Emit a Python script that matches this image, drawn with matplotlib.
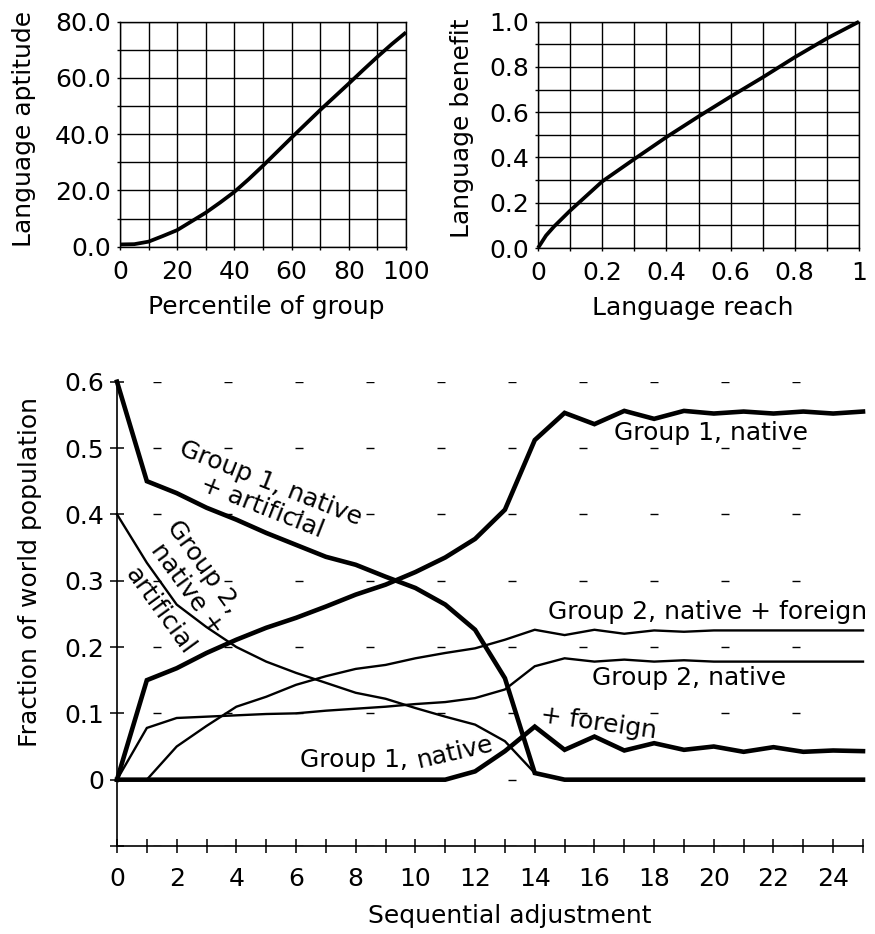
import matplotlib
matplotlib.use("Agg")
import matplotlib.pyplot as plt
from matplotlib.ticker import MultipleLocator, FixedLocator, FixedFormatter

plt.rcParams['font.family'] = ['DejaVu Sans']
FS = 18

# ---------------- data ----------------
percentile = [0, 5, 10, 15, 20, 25, 30, 35, 40, 45, 50, 55, 60, 65, 70, 75, 80, 85, 90, 95, 100]
aptitude = [0.8, 0.9, 1.8, 3.8, 5.9, 9.0, 12.1, 15.7, 19.5, 24.0, 28.8, 33.8, 38.8, 43.7, 48.6, 53.3, 58.0, 62.8, 67.5, 72.0, 76.2]
apt_xticks = [0, 20, 40, 60, 80, 100]
apt_xlabels = ['0', '20', '40', '60', '80', '100']
apt_yticks = [0, 20, 40, 60, 80]
apt_ylabels = ['0.0', '20.0', '40.0', '60.0', '80.0']

reach = [0, 0.025, 0.05, 0.1, 0.2, 0.3, 0.4, 0.5, 0.6, 0.7, 0.8, 0.9, 1.0]
benefit = [0, 0.055, 0.095, 0.165, 0.294, 0.393, 0.49, 0.581, 0.669, 0.754, 0.843, 0.926, 1.0]
ben_xticks = [0, 0.2, 0.4, 0.6, 0.8, 1.0]
ben_xlabels = ['0', '0.2', '0.4', '0.6', '0.8', '1']
ben_yticks = [0, 0.2, 0.4, 0.6, 0.8, 1.0]
ben_ylabels = ['0.0', '0.2', '0.4', '0.6', '0.8', '1.0']

steps = list(range(26))
g1_native_artificial = [0.60, 0.45, 0.432, 0.41, 0.392, 0.372, 0.354, 0.336, 0.324, 0.306, 0.289, 0.264, 0.226,
                        0.153, 0.01, 0, 0, 0, 0, 0, 0, 0, 0, 0, 0, 0]
g1_native = [0, 0.15, 0.168, 0.191, 0.211, 0.229, 0.244, 0.261, 0.279, 0.294, 0.313, 0.335, 0.363,
             0.407, 0.512, 0.553, 0.536, 0.556, 0.544, 0.556, 0.552, 0.555, 0.552, 0.555, 0.552, 0.555]
g2_native_artificial = [0.4, 0.327, 0.264, 0.23, 0.2, 0.178, 0.161, 0.146, 0.131, 0.122, 0.108, 0.095, 0.083,
                        0.058, 0.01, 0, 0, 0, 0, 0, 0, 0, 0, 0, 0, 0]
g1_native_foreign = [0, 0, 0, 0, 0, 0, 0, 0, 0, 0, 0, 0, 0.0125,
                     0.043, 0.08, 0.045, 0.065, 0.044, 0.055, 0.045, 0.05, 0.042, 0.049, 0.042, 0.044, 0.043]
g2_native_foreign = [0, 0, 0.05, 0.081, 0.11, 0.125, 0.143, 0.156, 0.167, 0.173, 0.183, 0.191, 0.198,
                     0.211, 0.226, 0.218, 0.226, 0.22, 0.225, 0.223, 0.225, 0.225, 0.225, 0.225, 0.225, 0.225]
g2_native = [0, 0.078, 0.093, 0.095, 0.097, 0.099, 0.1, 0.104, 0.107, 0.11, 0.114, 0.117, 0.123,
             0.136, 0.171, 0.183, 0.178, 0.181, 0.178, 0.18, 0.178, 0.178, 0.178, 0.178, 0.178, 0.178]
main_xticks = [0, 2, 4, 6, 8, 10, 12, 14, 16, 18, 20, 22, 24]
main_xlabels = ['0', '2', '4', '6', '8', '10', '12', '14', '16', '18', '20', '22', '24']
main_yticks = [-0.1, 0, 0.1, 0.2, 0.3, 0.4, 0.5, 0.6]
main_ylabels = ['', '0', '0.1', '0.2', '0.3', '0.4', '0.5', '0.6']

# ---------------- figure ----------------
W, H = 875, 934
fig = plt.figure(figsize=(W / 100, H / 100), dpi=100)


def rect(x0, y0, x1, y1):
    return [x0 / W, 1 - y1 / H, (x1 - x0) / W, (y1 - y0) / H]


def ftext(x, y, s, **kw):
    kw.setdefault('fontsize', FS)
    kw.setdefault('ha', 'center')
    kw.setdefault('va', 'center')
    kw.setdefault('rotation_mode', 'anchor')
    fig.text(x / W, 1 - y / H, s, **kw)


def small_panel(ax, x, y, xmaj, xlab, xmin, ymaj, ylab, ymin, xlim, ylim):
    ax.plot(x, y, color='black', lw=2.7, solid_capstyle='butt', zorder=3, clip_on=False)
    ax.set_xlim(*xlim)
    ax.set_ylim(*ylim)
    ax.xaxis.set_major_locator(FixedLocator(xmaj))
    ax.xaxis.set_major_formatter(FixedFormatter(xlab))
    ax.yaxis.set_major_locator(FixedLocator(ymaj))
    ax.yaxis.set_major_formatter(FixedFormatter(ylab))
    ax.xaxis.set_minor_locator(MultipleLocator(xmin))
    ax.yaxis.set_minor_locator(MultipleLocator(ymin))
    ax.grid(which='both', color='black', lw=1.0)
    ax.set_axisbelow(True)
    for sp in ax.spines.values():
        sp.set_linewidth(1.0)
    ax.tick_params(which='both', direction='out', length=2.5, width=1.0, labelsize=FS)
    ax.tick_params(axis='y', which='both', pad=4)
    ax.tick_params(axis='x', which='both', pad=7)


ax1 = fig.add_axes(rect(120, 21.7, 406, 246.7))
small_panel(ax1, percentile, aptitude, apt_xticks, apt_xlabels, 10, apt_yticks, apt_ylabels, 10,
            (0, 100), (0, 80))
ax2 = fig.add_axes(rect(538, 21.7, 859, 248))
small_panel(ax2, reach, benefit, ben_xticks, ben_xlabels, 0.1, ben_yticks, ben_ylabels, 0.1,
            (0, 1), (0, 1))

ftext(24, 129, 'Language aptitude', rotation=90)
ftext(266, 307, 'Percentile of group')
ftext(462, 128, 'Language benefit', rotation=90)
ftext(693, 308, 'Language reach')

# ---------------- main panel ----------------
ax = fig.add_axes(rect(117, 381.7, 863, 846))
thick = dict(color='black', lw=3.3, solid_joinstyle='miter', zorder=4, clip_on=False)
thin = dict(color='black', lw=1.7, solid_joinstyle='miter', zorder=3, clip_on=False)
ax.plot(steps, g1_native_foreign, **thick)
ax.plot(steps, g2_native_artificial, **thin)
ax.plot(steps, g1_native_artificial, **thick)
ax.plot(steps, g1_native, **thick)
ax.plot(steps, g2_native, **thin)
ax.plot(steps, g2_native_foreign, **thin)

ax.set_xlim(0, 25)
ax.set_ylim(-0.1, 0.6)
ax.spines['top'].set_visible(False)
ax.spines['right'].set_visible(False)
ax.spines['left'].set_linewidth(1.2)
ax.spines['bottom'].set_linewidth(1.2)
ax.xaxis.set_major_locator(FixedLocator(main_xticks))
ax.xaxis.set_major_formatter(FixedFormatter(main_xlabels))
ax.xaxis.set_minor_locator(MultipleLocator(1))
ax.yaxis.set_major_locator(FixedLocator(main_yticks))
ax.yaxis.set_major_formatter(FixedFormatter(main_ylabels))
ax.tick_params(which='both', direction='inout', length=10, width=1.1, labelsize=FS)
ax.tick_params(axis='x', which='both', pad=10)
ax.tick_params(axis='y', pad=4)
ax.grid(axis='y', which='major', color='black', lw=1.0, linestyle=(25.2, (5.76, 45.36)))
ax.set_axisbelow(True)

ftext(30, 572, 'Fraction of world population', rotation=90)
ftext(510, 916, 'Sequential adjustment')

# curve labels
ftext(614, 433, 'Group 1, native', ha='left')
ftext(271, 483, 'Group 1, native', rotation=-21.5)
ftext(262, 507, '+ artificial', rotation=-21.5)
ftext(203, 567, 'Group 2,', rotation=-54)
ftext(187, 589, 'native +', rotation=-54)
ftext(160, 611, 'artificial', rotation=-54)
ftext(548, 612, 'Group 2, native + foreign', ha='left')
ftext(592, 678, 'Group 2, native', ha='left')
ftext(599, 723, '+ foreign', rotation=-8)
ftext(300, 767, 'Group 1,', ha='left', va='baseline')
ftext(455, 752, 'native', rotation=13)

fig.savefig('out.png', dpi=100)
